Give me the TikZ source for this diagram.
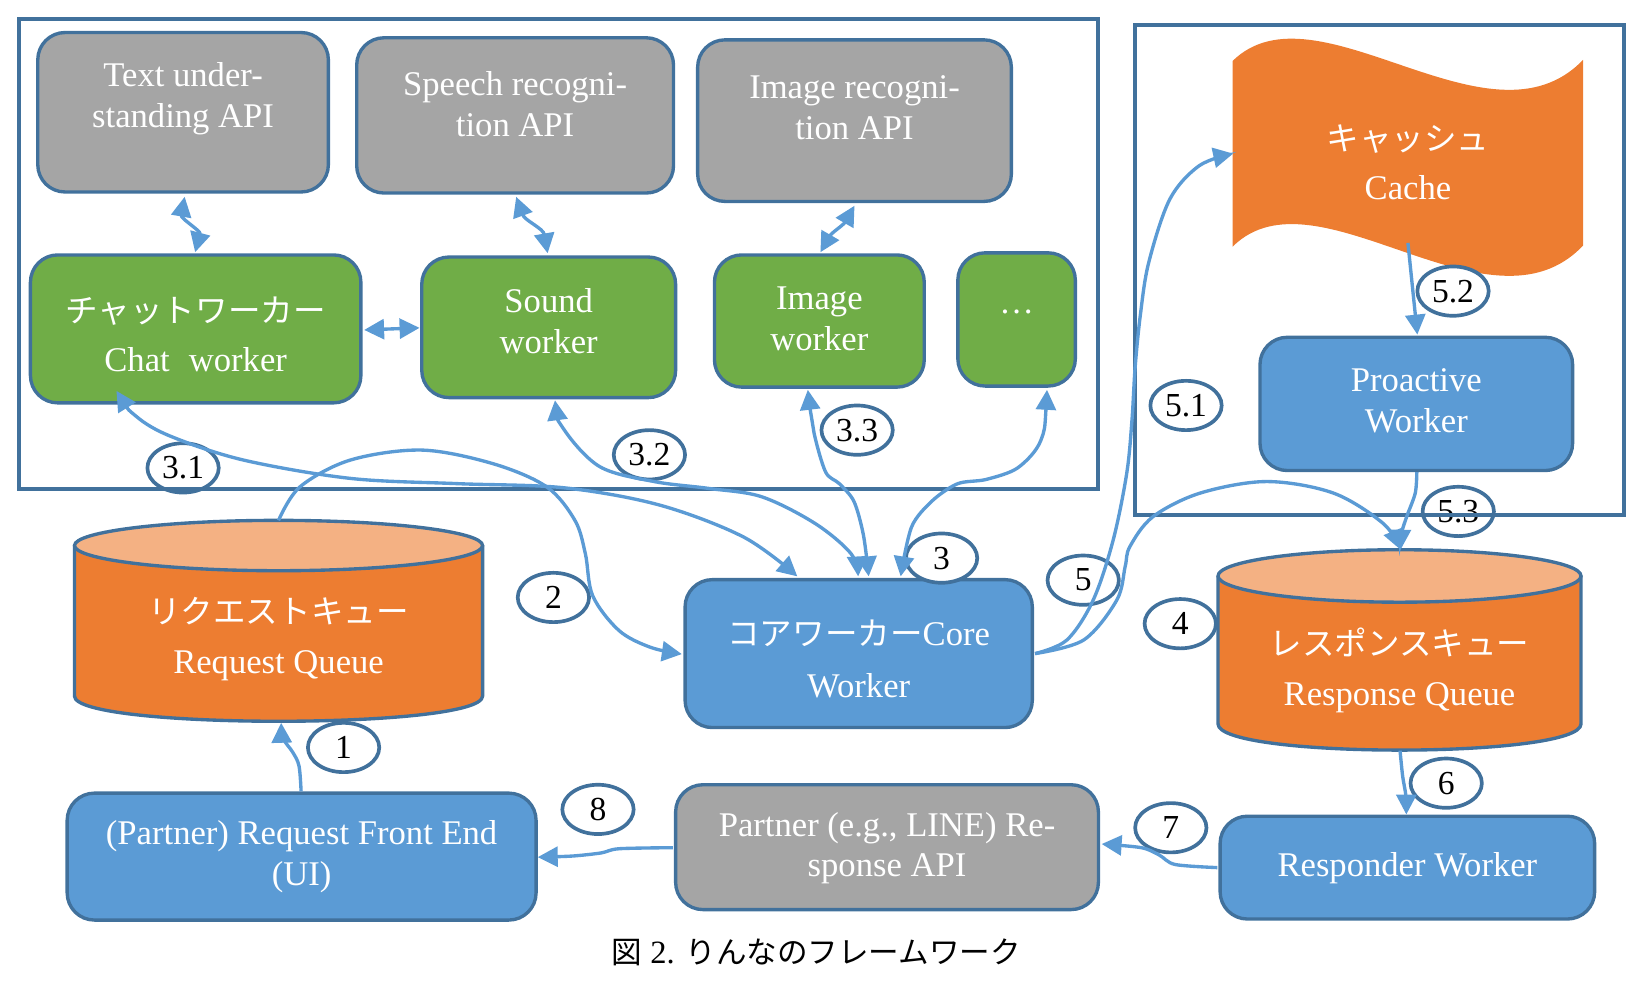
\documentclass[tikz,border=0pt]{standalone}
\usepackage{fontspec}
\setmainfont{Liberation Serif}
\newfontfamily\jp[Scale=0.94]{Noto Sans CJK JP}
\usetikzlibrary{arrows.meta,calc,shapes.geometric}
\definecolor{frameblue}{HTML}{41719C}
\definecolor{gfill}{HTML}{A5A5A5}
\definecolor{greenfill}{HTML}{70AD47}
\definecolor{bluefill}{HTML}{5B9BD5}
\definecolor{orangefill}{HTML}{ED7D31}
\definecolor{lightorange}{HTML}{F4B183}
\definecolor{arrowblue}{HTML}{5B9BD5}
\tikzset{
  box/.style={draw=frameblue, line width=3.2pt, rounded corners=26pt, inner sep=0pt},
  graybox/.style={box, fill=gfill},
  greenbox/.style={box, fill=greenfill},
  bluebox/.style={box, fill=bluefill},
  outerframe/.style={draw=frameblue, line width=3.8pt, inner sep=0pt},
  txt/.style={text=white, align=center, inner sep=0pt, font=\fontsize{33}{39}\selectfont},
  numlabel/.style={ellipse, draw=frameblue, line width=3.5pt, fill=white, minimum width=68pt, minimum height=47pt, inner sep=0pt, font=\fontsize{32}{36}\selectfont},
  conn/.style={draw=arrowblue, line width=3.2pt},
  arr/.style={conn, -{Triangle[length=19pt,width=19pt]}},
  darr/.style={conn, {Triangle[length=19pt,width=19pt]}-{Triangle[length=19pt,width=19pt]}},
  hidden/.style={inner sep=0pt, outer sep=0pt},
  cylline/.style={draw=frameblue, line width=3.2pt},
}
\begin{document}
\begin{tikzpicture}[x=1pt,y=-1pt]
\useasboundingbox (0,0) rectangle (1568,947);

% ---------- API boxes ----------
\node[graybox, minimum width=277pt, minimum height=152pt] (tapi) at (174.5,107) {};
\node[txt] (tapit) at (174.5,94) {Text under-\\standing API};
\node[graybox, minimum width=302pt, minimum height=148pt] (sapi) at (491,110) {};
\node[txt] (sapit) at (491,99.5) {Speech recogni-\\tion API};
\node[graybox, minimum width=299pt, minimum height=154pt] (iapi) at (814.5,115) {};
\node[txt] (iapit) at (814.5,103) {Image recogni-\\tion API};

% ---------- workers ----------
\node[greenbox, minimum width=315pt, minimum height=141pt] (chat) at (186.5,313.5) {};
\node[txt] (chatt) at (186.5,319) {{\jp チャットワーカー}\\[8pt]Chat\hspace{10pt} worker};
\node[greenbox, minimum width=242pt, minimum height=134pt] (sound) at (523,312) {};
\node[txt] (soundt) at (523,306) {Sound\\worker};
\node[greenbox, minimum width=200pt, minimum height=126pt] (imgw) at (781,306) {};
\node[txt] (imgwt) at (781,304) {Image\\worker};
\node[greenbox, minimum width=112pt, minimum height=127pt] (dots) at (969,304.5) {};
\node[txt] (dotst) at (969,297) {…};

% ---------- request queue cylinder ----------
\node[hidden, minimum width=389pt, minimum height=192pt] (rq) at (265.5,592) {};
\path[fill=orangefill, cylline] (71,520) -- (71,663.5) .. controls (71,695.5) and (460,695.5) .. (460,663.5) -- (460,520);
\draw[cylline, fill=lightorange] (265.5,520) ellipse [x radius=194.5pt, y radius=24pt];
\node[txt] (rqt) at (265.5,609) {{\jp リクエストキュー}\\[9pt]Request Queue};

% ---------- core worker ----------
\node[bluebox, minimum width=331pt, minimum height=141pt] (core) at (818.5,623) {};
\node[txt] (coret) at (818.5,628) {{\jp コアワーカー}Core\\[10pt]Worker};

% ---------- response queue cylinder ----------
\node[hidden, minimum width=346pt, minimum height=191pt] (resq) at (1334,619.5) {};
\path[fill=orangefill, cylline] (1161,549) -- (1161,690) .. controls (1161,723.3) and (1507,723.3) .. (1507,690) -- (1507,549);
\draw[cylline, fill=lightorange] (1334,549) ellipse [x radius=173pt, y radius=25pt];
\node[txt] (resqt) at (1334,639) {{\jp レスポンスキュー}\\[9pt]Response Queue};

% ---------- cache ----------
\node[hidden, minimum width=334pt, minimum height=200pt] (cache) at (1342,147) {};
\fill[orangefill] (1175,58) .. controls (1255,-20) and (1420,150) .. (1509,57) -- (1509,234) .. controls (1420,328) and (1255,156) .. (1175,235) -- cycle;
\node[txt] (cachet) at (1342,155) {{\jp キャッシュ}\\[8pt]Cache};

% ---------- proactive ----------
\node[bluebox, minimum width=298pt, minimum height=127pt] (proactive) at (1350,385) {};
\node[txt] (proactivet) at (1350,382) {Proactive\\Worker};

% ---------- bottom row ----------
\node[bluebox, minimum width=447pt, minimum height=121pt] (front) at (287.5,816.5) {};
\node[txt] (frontt) at (287.5,817) {(Partner) Request Front End\\(UI)};
\node[graybox, minimum width=403pt, minimum height=119pt] (papi) at (845.5,807.5) {};
\node[txt] (papit) at (845.5,808.5) {Partner (e.g., LINE) Re-\\sponse API};
\node[bluebox, minimum width=357pt, minimum height=98pt] (responder) at (1341.5,827) {};
\node[txt] (respondert) at (1341.5,828) {Responder Worker};

% ---------- number labels ----------
\node[numlabel] (n31) at (174.5,446) {3.1};
\node[numlabel] (n32) at (619,433.5) {3.2};
\node[numlabel] (n33) at (817,410) {3.3};
\node[numlabel] (n3) at (897.5,532) {3};
\node[numlabel] (n2) at (527.5,569.5) {2};
\node[numlabel] (n1) at (327.5,712.5) {1};
\node[numlabel] (n8) at (570,771.5) {8};
\node[numlabel] (n7) at (1116,789) {7};
\node[numlabel] (n6) at (1378.5,746.5) {6};
\node[numlabel] (n4) at (1125,594.5) {4};
\node[numlabel] (n5) at (1032.5,553) {5};
\node[numlabel] (n51) at (1130.5,386.5) {5.1};
\node[numlabel] (n52) at (1385,277.5) {5.2};
\node[numlabel] (n53) at (1390,487.5) {5.3};

% ---------- outer frames ----------
\node[outerframe, minimum width=1029pt, minimum height=448pt] (leftframe) at (532.5,242.3) {};
\node[outerframe, minimum width=466pt, minimum height=467pt] (rightframe) at (1315,257.5) {};

% ---------- connectors ----------
\draw[darr] ($(tapi.south)+(1.5,3)$) to[out=-100,in=75] ($(chat.north)+(-0.5,-1)$);
\draw[darr] ($(sapi.south)+(1,2)$) to[out=-70,in=100] ($(sound.north)+(-1,-2)$);
\draw[darr] ($(iapi.south)+(0,2.5)$) to[out=-120,in=60] ($(imgw.north)+(1,-1)$);
\draw[darr] ($(chat.east)+(1.5,1)$) -- ($(sound.west)+(-0.5,0.5)$);

\draw[darr] plot[smooth, tension=0.55] coordinates {($(chat.south)+(-75.5,-13)$) (130,397) (163,416) (232,438.5) (334,456) (436,461) (538,465) (629,481.5) (709,512) ($(core.north)+(-58.5,-1.5)$)};
\draw[darr] plot[smooth, tension=0.55] coordinates {($(sound.south)+(6,1)$) (538,410) (572,445) (623.5,459) (675,465.5) (726,473.5) (777,499) (811,527.5) ($(core.north)+(-0.5,-1.5)$)};
\draw[darr] plot[smooth, tension=0.5] coordinates {($(imgw.south)+(-11,1)$) (776,413) (787,450) (800,461) (814,478) (823,510) ($(core.north)+(9.5,-1.5)$)};
\draw[darr] plot[smooth, tension=0.5] coordinates {($(dots.south)+(29,2)$) (992,420) (970,446) (940,457) (913,461) (889,477) (869,502) ($(core.north)+(40,-1.5)$)};

\draw[arr] plot[smooth, tension=0.55] coordinates {(rq.north) (286,464) (334,438.5) (402,429) (470,442) (521,464) (548,496) (558,528) (565,568) (590,601) (620,617) ($(core.west)+(-1.5,0.5)$)};
\draw[arr] plot[smooth, tension=0.55] coordinates {($(front.north)+(-0.5,0)$) (285,730) (279,717) (270,704) ($(rq.south)+(2.5,1)$)};
\draw[arr] plot[smooth, tension=0.5] coordinates {($(papi.west)+(-1,0.5)$) (590,809) (573,813) (545,816) ($(front.east)+(0,0.5)$)};
\draw[arr] plot[smooth, tension=0.5] coordinates {($(responder.west)+(-1,0)$) (1120,824) (1105,815) (1088,808) ($(papi.east)+(1.5,-3)$)};
\draw[arr] plot[smooth, tension=0.5] coordinates {($(resq.south)+(0.5,0.5)$) (1337,740) (1340,758) ($(responder.north)+(-1,0)$)};
\draw[arr] plot[smooth, tension=0.5] coordinates {($(proactive.south)+(0.5,0)$) (1349,470) (1341,492) (1336,508) ($(resq.north)+(1,0)$)};
\draw[arr] ($(cache.south)+(0,-15.5)$) -- ($(proactive.north)+(1,-1)$);
\draw[arr] plot[smooth, tension=0.55] coordinates {($(core.east)+(1,0)$) (1017,610) (1042,572) (1061,515) (1074,451) (1079,400) (1082,350) (1087,300) (1095,250) (1115,190) (1143,158) ($(cache.west)+(0.5,-0.6)$)};
\draw[arr] plot[smooth, tension=0.55] coordinates {($(core.east)+(1,0)$) (1033,610) (1064.5,572) (1072.5,540) (1077,521) (1099,492.5) (1144,470) (1207.5,459) (1271,470) (1318.5,499) ($(resq.north)+(1,0)$)};

% ---------- caption ----------
\node[inner sep=0pt, font=\fontsize{31}{36}\selectfont, text=black] (caption) at (778,908) {{\jp 図} 2. {\jp りんなのフレームワーク}};
\end{tikzpicture}
\end{document}
